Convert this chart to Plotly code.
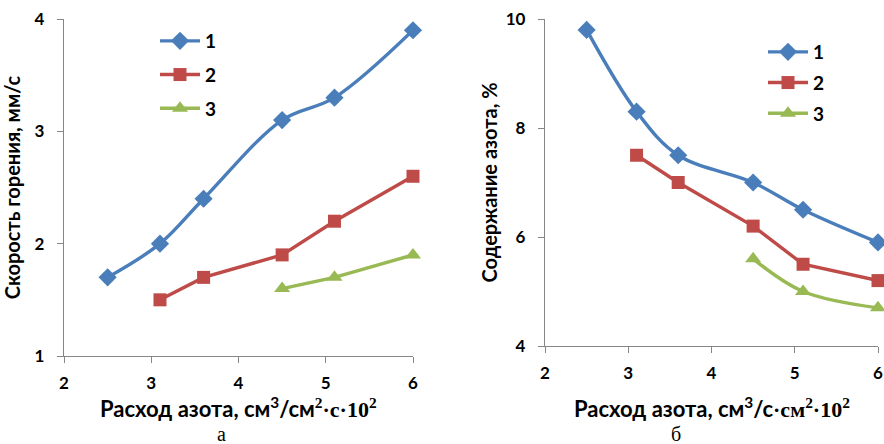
import plotly.graph_objects as go

# ---- data ----
x1_a = [2.5, 3.1, 3.6, 4.5, 5.1, 6.0]
y1_a = [1.7, 2.0, 2.4, 3.1, 3.3, 3.9]
x2_a = [3.1, 3.6, 4.5, 5.1, 6.0]
y2_a = [1.5, 1.7, 1.9, 2.2, 2.6]
x3_a = [4.5, 5.1, 6.0]
y3_a = [1.6, 1.7, 1.9]

x1_b = [2.5, 3.1, 3.6, 4.5, 5.1, 6.0]
y1_b = [9.8, 8.3, 7.5, 7.0, 6.5, 5.9]
x2_b = [3.1, 3.6, 4.5, 5.1, 6.0]
y2_b = [7.5, 7.0, 6.2, 5.5, 5.2]
x3_b = [4.5, 5.1, 6.0]
y3_b = [5.6, 5.0, 4.7]

names = ["1", "2", "3"]
x_ticks = [2, 3, 4, 5, 6]
y_ticks_a = [1, 2, 3, 4]
y_ticks_b = [4, 6, 8, 10]

BLUE = "#4a7ebb"
RED = "#be4b48"
GREEN = "#98b954"
AX = "#868686"
FONT = "Lato"

fig = go.Figure()

def add(x, y, name, color, symbol, size, shape, xa, ya, legend, group):
    fig.add_trace(go.Scatter(
        x=x, y=y, name=name, mode="lines+markers",
        line=dict(color=color, width=3.4, shape=shape),
        marker=dict(color=color, symbol=symbol, size=size),
        xaxis=xa, yaxis=ya, legend=legend, legendgroup=group, cliponaxis=False))

add(x1_a, y1_a, names[0], BLUE, "diamond", 14, "spline", "x", "y", "legend", "a1")
add(x2_a, y2_a, names[1], RED, "square", 13, "linear", "x", "y", "legend", "a2")
add(x3_a, y3_a, names[2], GREEN, "triangle-up", 14, "linear", "x", "y", "legend", "a3")
add(x1_b, y1_b, names[0], BLUE, "diamond", 14, "spline", "x2", "y2", "legend2", "b1")
add(x2_b, y2_b, names[1], RED, "square", 13, "linear", "x2", "y2", "legend2", "b2")
add(x3_b, y3_b, names[2], GREEN, "triangle-up", 14, "spline", "x2", "y2", "legend2", "b3")

W, H = 884, 444
def px(v): return v / W
def py(v): return 1 - v / H

axis_common = dict(showgrid=False, zeroline=False, showline=True, linecolor=AX,
                   linewidth=1.3, ticks="outside", ticklen=6, tickcolor=AX,
                   ticklabeloverflow="allow", automargin=False,
                   tickfont=dict(family=FONT, size=17, color="#000000", weight="bold"))

xtitle_a = ("Расход азота, см<sup>3</sup>/см<span style='font-family:Liberation Serif'>"
            "<sup>2</sup>·с·10<sup>2</sup></span>")
xtitle_b = ("Расход азота, см<sup>3</sup>/с<span style='font-family:Liberation Serif'>"
            "·см<sup>2</sup>·10<sup>2</sup></span>")
XTFONT = dict(family=FONT, size=22, color="#000", weight="bold")
YTFONT = dict(family=FONT, size=20, color="#000", weight="bold")
LFONT = dict(family=FONT, size=19, color="#000", weight="bold")

fig.update_layout(
    width=W, height=H, margin=dict(l=0, r=0, t=0, b=0, pad=0, autoexpand=False),
    paper_bgcolor="white", plot_bgcolor="white",
    xaxis=dict(domain=[px(64), px(413)], range=[2, 6], tickvals=x_ticks, anchor="y",
               ticklabelstandoff=5, **axis_common),
    yaxis=dict(domain=[py(356), py(19)], range=[1, 4], tickvals=y_ticks_a, anchor="x",
               ticklabelstandoff=9,
               title=dict(text="Скорость горения, мм/с", font=YTFONT, standoff=14),
               **axis_common),
    xaxis2=dict(domain=[px(545), px(878)], range=[2, 6], tickvals=x_ticks, anchor="y2",
                ticklabelstandoff=5, **axis_common),
    yaxis2=dict(domain=[py(346), py(19)], range=[4, 10], tickvals=y_ticks_b, anchor="x2",
                ticklabelstandoff=9,
                title=dict(text="Содержание азота, %", font=YTFONT, standoff=2),
                **axis_common),
    legend=dict(x=px(155), y=py(22), xanchor="left", yanchor="top",
                font=LFONT, itemwidth=40, tracegroupgap=6, bgcolor="rgba(0,0,0,0)"),
    legend2=dict(x=px(763), y=py(33), xanchor="left", yanchor="top",
                 font=LFONT, itemwidth=40, tracegroupgap=3, bgcolor="rgba(0,0,0,0)"),
    annotations=[
        dict(text=xtitle_a, x=px(239), y=py(407), xref="paper", yref="paper", showarrow=False,
             xanchor="center", yanchor="middle", font=XTFONT),
        dict(text=xtitle_b, x=px(712), y=py(407), xref="paper", yref="paper", showarrow=False,
             xanchor="center", yanchor="middle", font=XTFONT),
        dict(text="а", x=px(215), y=py(434), xref="paper", yref="paper", showarrow=False,
             yanchor="middle", font=dict(family="Liberation Serif", size=20, color="#000")),
        dict(text="б", x=px(683), y=py(434), xref="paper", yref="paper", showarrow=False,
             yanchor="middle", font=dict(family="Liberation Serif", size=20, color="#000")),
    ],
)

fig.write_html("out.html", config={"displayModeBar": False},
               post_script="document.body.style.margin='0';")
